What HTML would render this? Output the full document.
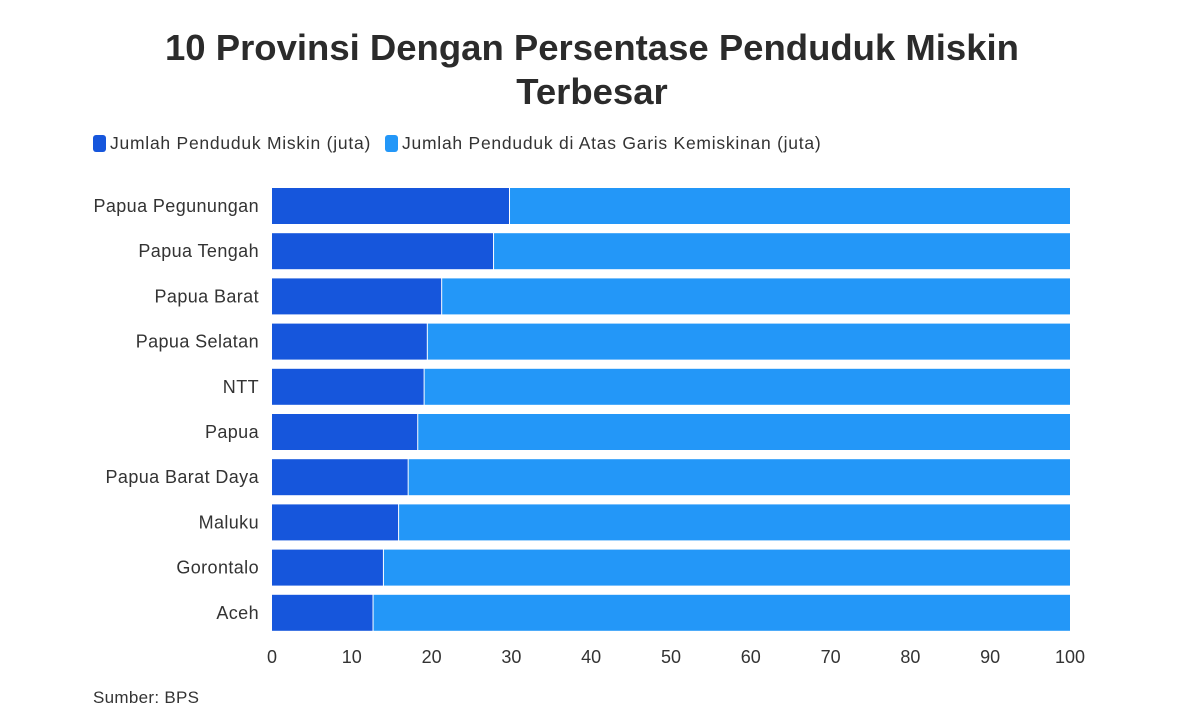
<!DOCTYPE html>
<html><head><meta charset="utf-8"><style>
body{margin:0;background:#fff;font-family:"Liberation Sans",sans-serif;}
#wrap{position:relative;width:1200px;height:723px;overflow:hidden;}
h1{position:absolute;top:26px;left:0;width:1184px;text-align:center;margin:0;font-size:36.5px;line-height:44px;font-weight:bold;color:#2b2b2b;}
.leg{position:absolute;top:133px;font-size:17.5px;color:#333;display:flex;align-items:center;letter-spacing:0.75px;}
.sw{width:13px;height:17px;border-radius:3px;margin-right:4px;}
#src{position:absolute;left:93px;top:688px;font-size:17px;color:#333;letter-spacing:0.3px;}
</style></head><body><div id="wrap">
<h1>10 Provinsi Dengan Persentase Penduduk Miskin<br>Terbesar</h1>
<div class="leg" style="left:93px"><div class="sw" style="background:#1656dc"></div>Jumlah Penduduk Miskin (juta)</div>
<div class="leg" style="left:385px"><div class="sw" style="background:#2397f8"></div>Jumlah Penduduk di Atas Garis Kemiskinan (juta)</div>
<svg id="svg" width="1200" height="723" style="position:absolute;left:0;top:0"></svg>
<div id="src">Sumber: BPS</div>
</div>
<script>
const categories=["Papua Pegunungan","Papua Tengah","Papua Barat","Papua Selatan","NTT","Papua","Papua Barat Daya","Maluku","Gorontalo","Aceh"];
const miskin=[29.7,27.7,21.2,19.4,19.0,18.2,17.0,15.8,13.9,12.6];
const ticks=[0,10,20,30,40,50,60,70,80,90,100];
const svg=document.getElementById('svg');const NS="http://www.w3.org/2000/svg";
const x0=272,x1=1070,top0=188,step=45.2,bh=36;
const xs=v=>x0+(v/100)*(x1-x0);
function mk(t,a){const e=document.createElementNS(NS,t);for(const k in a)e.setAttribute(k,a[k]);svg.appendChild(e);return e;}
categories.forEach((c,i)=>{
 const y=top0+i*step;
 const r1=mk('rect',{x:x0,y:y,width:xs(miskin[i])-x0,height:bh,fill:'#1656dc'});
 
 
 const r2=mk('rect',{x:xs(miskin[i])+1,y:y,width:x1-xs(miskin[i])-1,height:bh,fill:'#2397f8'});
 
 
 const t=mk('text',{x:259,y:y+bh/2+6,'text-anchor':'end','font-size':18,'letter-spacing':0.4,fill:'#333','font-family':'Liberation Sans, sans-serif'});
 t.textContent=c;
 
 
});
ticks.forEach(v=>{
 const t=mk('text',{x:xs(v),y:663,'text-anchor':'middle','font-size':18,fill:'#333','font-family':'Liberation Sans, sans-serif'});
 t.textContent=v;
 
 
});
</script></body></html>
